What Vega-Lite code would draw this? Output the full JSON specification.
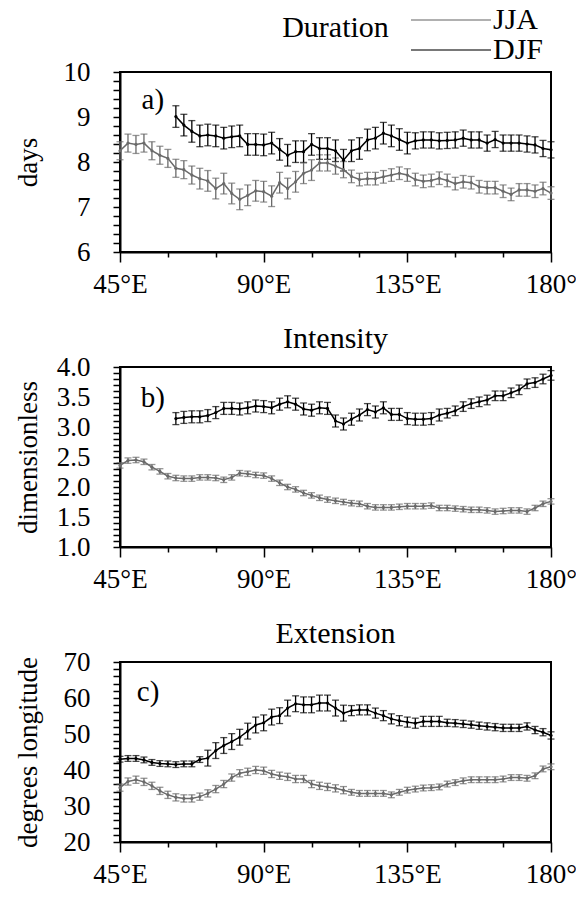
{
"$schema": "https://vega.github.io/schema/vega-lite/v6.json",
"padding": {"left": 12, "top": 5, "right": 5, "bottom": 5},
"bounds": "flush",
"spacing": 115,
"config": {
  "font": "Liberation Serif",
  "view": {"stroke": "black", "strokeWidth": 2},
  "axis": {"domainColor": "black", "domainWidth": 2, "tickColor": "black", "tickWidth": 1.5, "labelColor": "black", "labelFont": "Liberation Serif", "labelFontSize": 27, "titleFont": "Liberation Serif", "titleFontSize": 27, "titleFontWeight": "normal", "titleColor": "black", "grid": false, "labelOverlap": false},
  "axisY": {"labelOverlap": false},
  "axisQuantitative": {"labelOverlap": false},
  "title": {"font": "Liberation Serif", "fontSize": 30, "fontWeight": "normal", "color": "black"}
},
"datasets": {
"dur": [
{"lon":45,"s":"JJA","v":8.25,"e":0.2},{"lon":47.5,"s":"JJA","v":8.42,"e":0.2},{"lon":50,"s":"JJA","v":8.39,"e":0.2},{"lon":52.5,"s":"JJA","v":8.42,"e":0.2},{"lon":55,"s":"JJA","v":8.25,"e":0.2},{"lon":57.5,"s":"JJA","v":8.15,"e":0.2},{"lon":60,"s":"JJA","v":8.08,"e":0.2},{"lon":62.5,"s":"JJA","v":7.86,"e":0.2},{"lon":65,"s":"JJA","v":7.83,"e":0.2},{"lon":67.5,"s":"JJA","v":7.71,"e":0.2},
{"lon":70,"s":"JJA","v":7.63,"e":0.23},{"lon":72.5,"s":"JJA","v":7.58,"e":0.23},{"lon":75,"s":"JJA","v":7.41,"e":0.23},{"lon":77.5,"s":"JJA","v":7.52,"e":0.23},{"lon":80,"s":"JJA","v":7.30,"e":0.23},{"lon":82.5,"s":"JJA","v":7.17,"e":0.23},{"lon":85,"s":"JJA","v":7.26,"e":0.23},{"lon":87.5,"s":"JJA","v":7.36,"e":0.23},{"lon":90,"s":"JJA","v":7.34,"e":0.23},{"lon":92.5,"s":"JJA","v":7.24,"e":0.23},
{"lon":95,"s":"JJA","v":7.54,"e":0.23},{"lon":97.5,"s":"JJA","v":7.41,"e":0.23},{"lon":100,"s":"JJA","v":7.56,"e":0.23},{"lon":102.5,"s":"JJA","v":7.75,"e":0.23},{"lon":105,"s":"JJA","v":7.82,"e":0.23},{"lon":107.5,"s":"JJA","v":7.98,"e":0.18},{"lon":110,"s":"JJA","v":7.98,"e":0.18},{"lon":112.5,"s":"JJA","v":7.91,"e":0.18},{"lon":115,"s":"JJA","v":7.83,"e":0.18},{"lon":117.5,"s":"JJA","v":7.68,"e":0.14},
{"lon":120,"s":"JJA","v":7.61,"e":0.14},{"lon":122.5,"s":"JJA","v":7.63,"e":0.14},{"lon":125,"s":"JJA","v":7.63,"e":0.14},{"lon":127.5,"s":"JJA","v":7.67,"e":0.14},{"lon":130,"s":"JJA","v":7.71,"e":0.14},{"lon":132.5,"s":"JJA","v":7.75,"e":0.14},{"lon":135,"s":"JJA","v":7.71,"e":0.14},{"lon":137.5,"s":"JJA","v":7.61,"e":0.14},{"lon":140,"s":"JJA","v":7.57,"e":0.14},{"lon":142.5,"s":"JJA","v":7.59,"e":0.14},
{"lon":145,"s":"JJA","v":7.64,"e":0.14},{"lon":147.5,"s":"JJA","v":7.59,"e":0.14},{"lon":150,"s":"JJA","v":7.52,"e":0.14},{"lon":152.5,"s":"JJA","v":7.56,"e":0.14},{"lon":155,"s":"JJA","v":7.54,"e":0.14},{"lon":157.5,"s":"JJA","v":7.45,"e":0.14},{"lon":160,"s":"JJA","v":7.43,"e":0.14},{"lon":162.5,"s":"JJA","v":7.43,"e":0.14},{"lon":165,"s":"JJA","v":7.35,"e":0.14},{"lon":167.5,"s":"JJA","v":7.28,"e":0.14},
{"lon":170,"s":"JJA","v":7.38,"e":0.14},{"lon":172.5,"s":"JJA","v":7.38,"e":0.14},{"lon":175,"s":"JJA","v":7.35,"e":0.14},{"lon":177.5,"s":"JJA","v":7.41,"e":0.14},{"lon":180,"s":"JJA","v":7.31,"e":0.14},
{"lon":62.5,"s":"DJF","v":9.01,"e":0.24},{"lon":65,"s":"DJF","v":8.82,"e":0.24},{"lon":67.5,"s":"DJF","v":8.68,"e":0.24},{"lon":70,"s":"DJF","v":8.58,"e":0.24},{"lon":72.5,"s":"DJF","v":8.60,"e":0.24},{"lon":75,"s":"DJF","v":8.58,"e":0.24},{"lon":77.5,"s":"DJF","v":8.53,"e":0.24},{"lon":80,"s":"DJF","v":8.56,"e":0.24},{"lon":82.5,"s":"DJF","v":8.58,"e":0.24},{"lon":85,"s":"DJF","v":8.39,"e":0.24},
{"lon":87.5,"s":"DJF","v":8.39,"e":0.24},{"lon":90,"s":"DJF","v":8.38,"e":0.24},{"lon":92.5,"s":"DJF","v":8.42,"e":0.24},{"lon":95,"s":"DJF","v":8.28,"e":0.24},{"lon":97.5,"s":"DJF","v":8.15,"e":0.24},{"lon":100,"s":"DJF","v":8.23,"e":0.24},{"lon":102.5,"s":"DJF","v":8.23,"e":0.24},{"lon":105,"s":"DJF","v":8.39,"e":0.24},{"lon":107.5,"s":"DJF","v":8.30,"e":0.24},{"lon":110,"s":"DJF","v":8.30,"e":0.24},
{"lon":112.5,"s":"DJF","v":8.25,"e":0.24},{"lon":115,"s":"DJF","v":8.04,"e":0.24},{"lon":117.5,"s":"DJF","v":8.25,"e":0.24},{"lon":120,"s":"DJF","v":8.30,"e":0.24},{"lon":122.5,"s":"DJF","v":8.49,"e":0.24},{"lon":125,"s":"DJF","v":8.53,"e":0.24},{"lon":127.5,"s":"DJF","v":8.64,"e":0.24},{"lon":130,"s":"DJF","v":8.58,"e":0.24},{"lon":132.5,"s":"DJF","v":8.50,"e":0.24},{"lon":135,"s":"DJF","v":8.42,"e":0.24},
{"lon":137.5,"s":"DJF","v":8.47,"e":0.18},{"lon":140,"s":"DJF","v":8.49,"e":0.18},{"lon":142.5,"s":"DJF","v":8.49,"e":0.18},{"lon":145,"s":"DJF","v":8.47,"e":0.18},{"lon":147.5,"s":"DJF","v":8.48,"e":0.18},{"lon":150,"s":"DJF","v":8.49,"e":0.18},{"lon":152.5,"s":"DJF","v":8.53,"e":0.18},{"lon":155,"s":"DJF","v":8.49,"e":0.18},{"lon":157.5,"s":"DJF","v":8.49,"e":0.18},{"lon":160,"s":"DJF","v":8.42,"e":0.18},
{"lon":162.5,"s":"DJF","v":8.50,"e":0.18},{"lon":165,"s":"DJF","v":8.42,"e":0.18},{"lon":167.5,"s":"DJF","v":8.42,"e":0.18},{"lon":170,"s":"DJF","v":8.42,"e":0.18},{"lon":172.5,"s":"DJF","v":8.40,"e":0.18},{"lon":175,"s":"DJF","v":8.38,"e":0.18},{"lon":177.5,"s":"DJF","v":8.30,"e":0.18},{"lon":180,"s":"DJF","v":8.27,"e":0.18}
],
"int": [
{"lon":45,"s":"JJA","v":2.36,"e":0.045},{"lon":47.5,"s":"JJA","v":2.44,"e":0.045},{"lon":50,"s":"JJA","v":2.45,"e":0.045},{"lon":52.5,"s":"JJA","v":2.42,"e":0.045},{"lon":55,"s":"JJA","v":2.33,"e":0.045},{"lon":57.5,"s":"JJA","v":2.26,"e":0.045},{"lon":60,"s":"JJA","v":2.18,"e":0.045},{"lon":62.5,"s":"JJA","v":2.15,"e":0.045},{"lon":65,"s":"JJA","v":2.14,"e":0.045},{"lon":67.5,"s":"JJA","v":2.14,"e":0.045},
{"lon":70,"s":"JJA","v":2.16,"e":0.045},{"lon":72.5,"s":"JJA","v":2.16,"e":0.045},{"lon":75,"s":"JJA","v":2.15,"e":0.045},{"lon":77.5,"s":"JJA","v":2.12,"e":0.045},{"lon":80,"s":"JJA","v":2.16,"e":0.045},{"lon":82.5,"s":"JJA","v":2.23,"e":0.045},{"lon":85,"s":"JJA","v":2.22,"e":0.045},{"lon":87.5,"s":"JJA","v":2.20,"e":0.045},{"lon":90,"s":"JJA","v":2.19,"e":0.045},{"lon":92.5,"s":"JJA","v":2.14,"e":0.045},
{"lon":95,"s":"JJA","v":2.07,"e":0.045},{"lon":97.5,"s":"JJA","v":2.00,"e":0.045},{"lon":100,"s":"JJA","v":1.96,"e":0.045},{"lon":102.5,"s":"JJA","v":1.90,"e":0.045},{"lon":105,"s":"JJA","v":1.86,"e":0.045},{"lon":107.5,"s":"JJA","v":1.82,"e":0.045},{"lon":110,"s":"JJA","v":1.79,"e":0.045},{"lon":112.5,"s":"JJA","v":1.77,"e":0.045},{"lon":115,"s":"JJA","v":1.75,"e":0.045},{"lon":117.5,"s":"JJA","v":1.73,"e":0.045},
{"lon":120,"s":"JJA","v":1.72,"e":0.045},{"lon":122.5,"s":"JJA","v":1.68,"e":0.045},{"lon":125,"s":"JJA","v":1.66,"e":0.045},{"lon":127.5,"s":"JJA","v":1.66,"e":0.045},{"lon":130,"s":"JJA","v":1.66,"e":0.045},{"lon":132.5,"s":"JJA","v":1.67,"e":0.045},{"lon":135,"s":"JJA","v":1.68,"e":0.045},{"lon":137.5,"s":"JJA","v":1.68,"e":0.045},{"lon":140,"s":"JJA","v":1.68,"e":0.045},{"lon":142.5,"s":"JJA","v":1.69,"e":0.045},
{"lon":145,"s":"JJA","v":1.65,"e":0.045},{"lon":147.5,"s":"JJA","v":1.65,"e":0.045},{"lon":150,"s":"JJA","v":1.64,"e":0.045},{"lon":152.5,"s":"JJA","v":1.63,"e":0.045},{"lon":155,"s":"JJA","v":1.62,"e":0.045},{"lon":157.5,"s":"JJA","v":1.62,"e":0.045},{"lon":160,"s":"JJA","v":1.61,"e":0.045},{"lon":162.5,"s":"JJA","v":1.59,"e":0.045},{"lon":165,"s":"JJA","v":1.60,"e":0.045},{"lon":167.5,"s":"JJA","v":1.61,"e":0.045},
{"lon":170,"s":"JJA","v":1.61,"e":0.045},{"lon":172.5,"s":"JJA","v":1.59,"e":0.045},{"lon":175,"s":"JJA","v":1.65,"e":0.045},{"lon":177.5,"s":"JJA","v":1.72,"e":0.045},{"lon":180,"s":"JJA","v":1.76,"e":0.045},
{"lon":62.5,"s":"DJF","v":3.14,"e":0.1},{"lon":65,"s":"DJF","v":3.16,"e":0.1},{"lon":67.5,"s":"DJF","v":3.17,"e":0.1},{"lon":70,"s":"DJF","v":3.17,"e":0.1},{"lon":72.5,"s":"DJF","v":3.19,"e":0.1},{"lon":75,"s":"DJF","v":3.24,"e":0.1},{"lon":77.5,"s":"DJF","v":3.31,"e":0.1},{"lon":80,"s":"DJF","v":3.31,"e":0.1},{"lon":82.5,"s":"DJF","v":3.30,"e":0.1},{"lon":85,"s":"DJF","v":3.32,"e":0.1},
{"lon":87.5,"s":"DJF","v":3.35,"e":0.1},{"lon":90,"s":"DJF","v":3.34,"e":0.1},{"lon":92.5,"s":"DJF","v":3.32,"e":0.1},{"lon":95,"s":"DJF","v":3.38,"e":0.1},{"lon":97.5,"s":"DJF","v":3.42,"e":0.1},{"lon":100,"s":"DJF","v":3.38,"e":0.1},{"lon":102.5,"s":"DJF","v":3.30,"e":0.1},{"lon":105,"s":"DJF","v":3.28,"e":0.1},{"lon":107.5,"s":"DJF","v":3.32,"e":0.1},{"lon":110,"s":"DJF","v":3.31,"e":0.1},
{"lon":112.5,"s":"DJF","v":3.10,"e":0.1},{"lon":115,"s":"DJF","v":3.05,"e":0.1},{"lon":117.5,"s":"DJF","v":3.13,"e":0.1},{"lon":120,"s":"DJF","v":3.20,"e":0.1},{"lon":122.5,"s":"DJF","v":3.29,"e":0.1},{"lon":125,"s":"DJF","v":3.25,"e":0.1},{"lon":127.5,"s":"DJF","v":3.32,"e":0.1},{"lon":130,"s":"DJF","v":3.21,"e":0.1},{"lon":132.5,"s":"DJF","v":3.21,"e":0.1},{"lon":135,"s":"DJF","v":3.14,"e":0.1},
{"lon":137.5,"s":"DJF","v":3.13,"e":0.1},{"lon":140,"s":"DJF","v":3.13,"e":0.1},{"lon":142.5,"s":"DJF","v":3.14,"e":0.1},{"lon":145,"s":"DJF","v":3.20,"e":0.1},{"lon":147.5,"s":"DJF","v":3.23,"e":0.08},{"lon":150,"s":"DJF","v":3.27,"e":0.08},{"lon":152.5,"s":"DJF","v":3.34,"e":0.08},{"lon":155,"s":"DJF","v":3.39,"e":0.08},{"lon":157.5,"s":"DJF","v":3.42,"e":0.08},{"lon":160,"s":"DJF","v":3.45,"e":0.08},
{"lon":162.5,"s":"DJF","v":3.52,"e":0.08},{"lon":165,"s":"DJF","v":3.52,"e":0.08},{"lon":167.5,"s":"DJF","v":3.57,"e":0.08},{"lon":170,"s":"DJF","v":3.62,"e":0.08},{"lon":172.5,"s":"DJF","v":3.72,"e":0.08},{"lon":175,"s":"DJF","v":3.74,"e":0.08},{"lon":177.5,"s":"DJF","v":3.80,"e":0.08},{"lon":180,"s":"DJF","v":3.86,"e":0.08}
],
"ext": [
{"lon":45,"s":"JJA","v":35.1,"e":1.0},{"lon":47.5,"s":"JJA","v":36.8,"e":1.0},{"lon":50,"s":"JJA","v":37.3,"e":1.0},{"lon":52.5,"s":"JJA","v":36.7,"e":1.0},{"lon":55,"s":"JJA","v":35.6,"e":1.0},{"lon":57.5,"s":"JJA","v":34.2,"e":1.0},{"lon":60,"s":"JJA","v":33.1,"e":1.0},{"lon":62.5,"s":"JJA","v":32.4,"e":1.0},{"lon":65,"s":"JJA","v":32.1,"e":1.0},{"lon":67.5,"s":"JJA","v":32.1,"e":1.0},
{"lon":70,"s":"JJA","v":32.6,"e":1.0},{"lon":72.5,"s":"JJA","v":33.5,"e":1.0},{"lon":75,"s":"JJA","v":34.7,"e":1.0},{"lon":77.5,"s":"JJA","v":36.1,"e":1.0},{"lon":80,"s":"JJA","v":37.9,"e":1.0},{"lon":82.5,"s":"JJA","v":39.1,"e":1.0},{"lon":85,"s":"JJA","v":39.5,"e":1.0},{"lon":87.5,"s":"JJA","v":40.0,"e":1.0},{"lon":90,"s":"JJA","v":39.8,"e":1.0},{"lon":92.5,"s":"JJA","v":38.9,"e":1.0},
{"lon":95,"s":"JJA","v":38.4,"e":1.0},{"lon":97.5,"s":"JJA","v":38.1,"e":1.0},{"lon":100,"s":"JJA","v":37.5,"e":1.0},{"lon":102.5,"s":"JJA","v":37.5,"e":1.0},{"lon":105,"s":"JJA","v":36.1,"e":1.0},{"lon":107.5,"s":"JJA","v":35.6,"e":1.0},{"lon":110,"s":"JJA","v":35.3,"e":1.0},{"lon":112.5,"s":"JJA","v":34.9,"e":1.0},{"lon":115,"s":"JJA","v":34.4,"e":1.0},{"lon":117.5,"s":"JJA","v":33.8,"e":0.8},
{"lon":120,"s":"JJA","v":33.5,"e":0.8},{"lon":122.5,"s":"JJA","v":33.5,"e":0.8},{"lon":125,"s":"JJA","v":33.5,"e":0.8},{"lon":127.5,"s":"JJA","v":33.5,"e":0.8},{"lon":130,"s":"JJA","v":33.1,"e":0.8},{"lon":132.5,"s":"JJA","v":33.8,"e":0.8},{"lon":135,"s":"JJA","v":34.4,"e":0.8},{"lon":137.5,"s":"JJA","v":34.7,"e":0.8},{"lon":140,"s":"JJA","v":35.0,"e":0.8},{"lon":142.5,"s":"JJA","v":35.1,"e":0.8},
{"lon":145,"s":"JJA","v":35.3,"e":0.8},{"lon":147.5,"s":"JJA","v":36.1,"e":0.8},{"lon":150,"s":"JJA","v":36.5,"e":0.8},{"lon":152.5,"s":"JJA","v":37.0,"e":0.8},{"lon":155,"s":"JJA","v":37.3,"e":0.8},{"lon":157.5,"s":"JJA","v":37.3,"e":0.8},{"lon":160,"s":"JJA","v":37.3,"e":0.8},{"lon":162.5,"s":"JJA","v":37.3,"e":0.8},{"lon":165,"s":"JJA","v":37.5,"e":0.8},{"lon":167.5,"s":"JJA","v":37.9,"e":0.8},
{"lon":170,"s":"JJA","v":37.9,"e":0.8},{"lon":172.5,"s":"JJA","v":37.7,"e":0.8},{"lon":175,"s":"JJA","v":38.4,"e":0.8},{"lon":177.5,"s":"JJA","v":40.3,"e":0.8},{"lon":180,"s":"JJA","v":40.9,"e":0.8},
{"lon":45,"s":"DJF","v":43.0,"e":0.8},{"lon":47.5,"s":"DJF","v":43.2,"e":0.8},{"lon":50,"s":"DJF","v":43.2,"e":0.8},{"lon":52.5,"s":"DJF","v":42.8,"e":0.8},{"lon":55,"s":"DJF","v":42.1,"e":0.8},{"lon":57.5,"s":"DJF","v":41.8,"e":0.8},{"lon":60,"s":"DJF","v":41.7,"e":0.8},{"lon":62.5,"s":"DJF","v":41.5,"e":0.8},{"lon":65,"s":"DJF","v":41.7,"e":0.8},{"lon":67.5,"s":"DJF","v":41.7,"e":0.8},
{"lon":70,"s":"DJF","v":42.9,"e":0.8},{"lon":72.5,"s":"DJF","v":43.3,"e":2.2},{"lon":75,"s":"DJF","v":45.4,"e":2.2},{"lon":77.5,"s":"DJF","v":46.8,"e":2.2},{"lon":80,"s":"DJF","v":47.9,"e":2.2},{"lon":82.5,"s":"DJF","v":49.1,"e":2.2},{"lon":85,"s":"DJF","v":50.8,"e":2.2},{"lon":87.5,"s":"DJF","v":52.5,"e":2.2},{"lon":90,"s":"DJF","v":53.1,"e":2.2},{"lon":92.5,"s":"DJF","v":54.7,"e":2.2},
{"lon":95,"s":"DJF","v":55.1,"e":2.2},{"lon":97.5,"s":"DJF","v":57.2,"e":2.2},{"lon":100,"s":"DJF","v":58.4,"e":2.2},{"lon":102.5,"s":"DJF","v":58.1,"e":2.2},{"lon":105,"s":"DJF","v":58.1,"e":2.2},{"lon":107.5,"s":"DJF","v":58.6,"e":2.2},{"lon":110,"s":"DJF","v":58.6,"e":2.2},{"lon":112.5,"s":"DJF","v":57.2,"e":2.2},{"lon":115,"s":"DJF","v":55.8,"e":2.2},{"lon":117.5,"s":"DJF","v":56.5,"e":1.4},
{"lon":120,"s":"DJF","v":56.7,"e":1.4},{"lon":122.5,"s":"DJF","v":56.7,"e":1.4},{"lon":125,"s":"DJF","v":55.8,"e":1.4},{"lon":127.5,"s":"DJF","v":55.1,"e":1.4},{"lon":130,"s":"DJF","v":54.2,"e":1.4},{"lon":132.5,"s":"DJF","v":53.7,"e":1.4},{"lon":135,"s":"DJF","v":53.3,"e":1.4},{"lon":137.5,"s":"DJF","v":53.0,"e":1.4},{"lon":140,"s":"DJF","v":53.5,"e":1.4},{"lon":142.5,"s":"DJF","v":53.5,"e":1.4},
{"lon":145,"s":"DJF","v":53.5,"e":1.4},{"lon":147.5,"s":"DJF","v":53.1,"e":1.0},{"lon":150,"s":"DJF","v":53.0,"e":1.0},{"lon":152.5,"s":"DJF","v":52.8,"e":1.0},{"lon":155,"s":"DJF","v":52.6,"e":1.0},{"lon":157.5,"s":"DJF","v":52.3,"e":1.0},{"lon":160,"s":"DJF","v":52.1,"e":1.0},{"lon":162.5,"s":"DJF","v":51.9,"e":1.0},{"lon":165,"s":"DJF","v":51.7,"e":1.0},{"lon":167.5,"s":"DJF","v":51.7,"e":1.0},
{"lon":170,"s":"DJF","v":51.7,"e":1.0},{"lon":172.5,"s":"DJF","v":52.1,"e":1.0},{"lon":175,"s":"DJF","v":51.1,"e":1.0},{"lon":177.5,"s":"DJF","v":50.5,"e":1.0},{"lon":180,"s":"DJF","v":49.6,"e":1.0}
]
},
"vconcat": [
{
 "width": 431, "height": 180,
 "title": {"text": "Duration", "offset": 15},
 "encoding": {
  "x": {"field": "lon", "type": "quantitative", "scale": {"domain": [45, 180], "nice": false, "zero": false},
    "axis": {"title": null, "values": [45,60,75,90,105,120,135,150,165,180], "labelExpr": "datum.value==45?'45°E':datum.value==90?'90°E':datum.value==135?'135°E':datum.value==180?'180°':''", "tickSize": {"condition": {"test": "datum.value % 45 == 0", "value": 10}, "value": 5}, "labelPadding": 9, "labelFlush": false, "labelOverlap": false}},
  "y": {"field": "v", "type": "quantitative", "scale": {"domain": [6, 10], "nice": false, "zero": false},
    "axis": {"title": "days", "values": [6,6.2,6.4,6.6,6.8,7,7.2,7.4,7.6,7.8,8,8.2,8.4,8.6,8.8,9,9.2,9.4,9.6,9.8,10], "labelExpr": "abs(datum.value - round(datum.value)) < 0.01 ? format(datum.value, 'd') : ''", "tickSize": 7, "labelPadding": 23, "titleX": -84, "titleY": 90, "titleAlign": "center", "titleBaseline": "alphabetic", "labelFlush": false, "labelOverlap": false, "labelBound": false}}
 },
 "layer": [
  {"data": {"name": "dur"},
   "mark": {"type": "errorbar", "ticks": {"size": 7}, "thickness": 1.3},
   "encoding": {
    "yError": {"field": "e"},
    "color": {"field": "s", "type": "nominal", "scale": {"domain": ["JJA", "DJF"], "range": ["#6a6a6a", "#000000"]},
      "legend": {"orient": "none", "legendX": 290, "legendY": -67, "title": null, "symbolType": "stroke", "symbolSize": 6400, "symbolStrokeWidth": 1.5, "labelFontSize": 30, "labelFont": "Liberation Serif", "labelColor": "black", "clipHeight": 30, "rowPadding": 0, "labelOffset": 1, "padding": 0}}
   }},
  {"data": {"name": "dur"},
   "mark": {"type": "line", "strokeWidth": 1.5, "point": {"filled": true, "size": 10}},
   "encoding": {"color": {"field": "s", "type": "nominal"}}},
  {"data": {"values": [{"lab": "a)", "lon": 55.3, "v": 9.37}]},
   "mark": {"type": "text", "fontSize": 29, "font": "Liberation Serif", "align": "center", "baseline": "middle", "color": "black"},
   "encoding": {"text": {"field": "lab"}}}
 ]
},
{
 "width": 431, "height": 180,
 "title": {"text": "Intensity", "offset": -1},
 "encoding": {
  "x": {"field": "lon", "type": "quantitative", "scale": {"domain": [45, 180], "nice": false, "zero": false},
    "axis": {"title": null, "values": [45,60,75,90,105,120,135,150,165,180], "labelExpr": "datum.value==45?'45°E':datum.value==90?'90°E':datum.value==135?'135°E':datum.value==180?'180°':''", "tickSize": {"condition": {"test": "datum.value % 45 == 0", "value": 10}, "value": 5}, "labelPadding": 9, "labelFlush": false, "labelOverlap": false}},
  "y": {"field": "v", "type": "quantitative", "scale": {"domain": [1, 4], "nice": false, "zero": false},
    "axis": {"title": "dimensionless", "values": [1,1.1,1.2,1.3,1.4,1.5,1.6,1.7,1.8,1.9,2,2.1,2.2,2.3,2.4,2.5,2.6,2.7,2.8,2.9,3,3.1,3.2,3.3,3.4,3.5,3.6,3.7,3.8,3.9,4], "labelExpr": "abs(datum.value*2 - round(datum.value*2)) < 0.01 ? format(datum.value, '.1f') : ''", "tickSize": 7, "labelPadding": 23, "titleX": -84, "titleY": 90, "titleAlign": "center", "titleBaseline": "alphabetic", "labelFlush": false, "labelOverlap": false, "labelBound": false}}
 },
 "layer": [
  {"data": {"name": "int"},
   "mark": {"type": "errorbar", "ticks": {"size": 7}, "thickness": 1.3},
   "encoding": {"yError": {"field": "e"}, "color": {"field": "s", "type": "nominal"}}},
  {"data": {"name": "int"},
   "mark": {"type": "line", "strokeWidth": 1.5, "point": {"filled": true, "size": 10}},
   "encoding": {"color": {"field": "s", "type": "nominal"}}},
  {"data": {"values": [{"lab": "b)", "lon": 55.3, "v": 3.49}]},
   "mark": {"type": "text", "fontSize": 29, "font": "Liberation Serif", "align": "center", "baseline": "middle", "color": "black"},
   "encoding": {"text": {"field": "lab"}}}
 ]
},
{
 "width": 431, "height": 180,
 "title": {"text": "Extension", "offset": -1},
 "encoding": {
  "x": {"field": "lon", "type": "quantitative", "scale": {"domain": [45, 180], "nice": false, "zero": false},
    "axis": {"title": null, "values": [45,60,75,90,105,120,135,150,165,180], "labelExpr": "datum.value==45?'45°E':datum.value==90?'90°E':datum.value==135?'135°E':datum.value==180?'180°':''", "tickSize": {"condition": {"test": "datum.value % 45 == 0", "value": 10}, "value": 5}, "labelPadding": 9, "labelFlush": false, "labelOverlap": false}},
  "y": {"field": "v", "type": "quantitative", "scale": {"domain": [20, 70], "nice": false, "zero": false},
    "axis": {"title": "degrees longitude", "values": [20,22,24,26,28,30,32,34,36,38,40,42,44,46,48,50,52,54,56,58,60,62,64,66,68,70], "labelExpr": "datum.value % 10 == 0 ? format(datum.value, 'd') : ''", "tickSize": 7, "labelPadding": 23, "titleX": -84, "titleY": 90, "titleAlign": "center", "titleBaseline": "alphabetic", "labelFlush": false, "labelOverlap": false, "labelBound": false}}
 },
 "layer": [
  {"data": {"name": "ext"},
   "mark": {"type": "errorbar", "ticks": {"size": 7}, "thickness": 1.3},
   "encoding": {"yError": {"field": "e"}, "color": {"field": "s", "type": "nominal"}}},
  {"data": {"name": "ext"},
   "mark": {"type": "line", "strokeWidth": 1.5, "point": {"filled": true, "size": 10}},
   "encoding": {"color": {"field": "s", "type": "nominal"}}},
  {"data": {"values": [{"lab": "c)", "lon": 53.8, "v": 61.7}]},
   "mark": {"type": "text", "fontSize": 29, "font": "Liberation Serif", "align": "center", "baseline": "middle", "color": "black"},
   "encoding": {"text": {"field": "lab"}}}
 ]
}
]
}
